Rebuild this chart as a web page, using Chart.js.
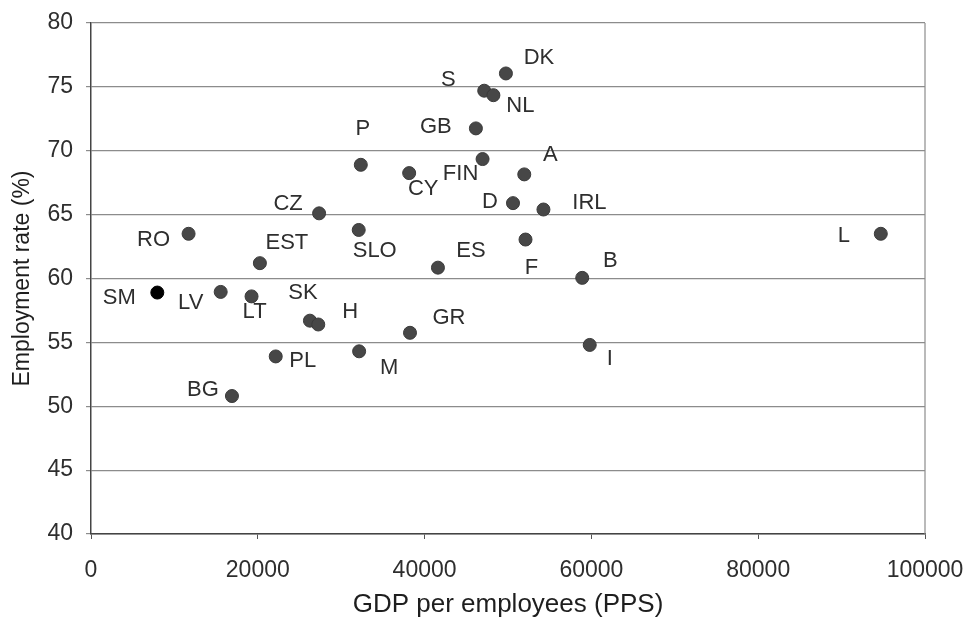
<!DOCTYPE html>
<html>
<head>
<meta charset="utf-8">
<title>Employment rate vs GDP per employee</title>
<script src="https://cdn.jsdelivr.net/npm/chart.js@4/dist/chart.umd.min.js"></script>
<style>
  html, body { margin: 0; padding: 0; background: #fff; }
  #wrap { width: 967px; height: 620px; }
</style>
</head>
<body>
<div id="wrap"><canvas id="chart" width="967" height="620"></canvas></div>
<script>
const countries = ["DK", "S", "NL", "GB", "P", "FIN", "A", "CY", "CZ", "D", "IRL", "RO", "SLO", "L", "F", "EST", "ES", "B", "SM", "LV", "LT", "SK", "H", "GR", "PL", "M", "I", "BG"];
const gdpPerEmployee = [49750, 47150, 48250, 46150, 32350, 46950, 51950, 38150, 27350, 50600, 54250, 11700, 32100, 94700, 52100, 20250, 41600, 58900, 7950, 15550, 19250, 26250, 27250, 38250, 22150, 32150, 59800, 16900];
const employmentRate = [76.05, 74.7, 74.35, 71.75, 68.9, 69.35, 68.15, 68.25, 65.1, 65.9, 65.4, 63.5, 63.8, 63.5, 63.05, 61.2, 60.85, 60.05, 58.9, 58.95, 58.6, 56.7, 56.4, 55.75, 53.9, 54.3, 54.8, 50.8];
const xTicks = [0, 20000, 40000, 60000, 80000, 100000];
const yTicks = [40, 45, 50, 55, 60, 65, 70, 75, 80];

// where each country name sits relative to its dot (px)
const labelOffsets = {
  DK: [33, -16], S: [-36, -11], NL: [27, 11], GB: [-40, -1], P: [2, -36], FIN: [-22, 15],
  A: [26, -19], CY: [14, 16], CZ: [-31, -9], D: [-23, -1], IRL: [46, -7], RO: [-35, 6],
  SLO: [16, 21], L: [-37, 2], F: [6, 28], EST: [27, -20], ES: [33, -17], B: [28, -17],
  SM: [-38, 5], LV: [-30, 11], LT: [3, 16], SK: [-7, -28], H: [32, -13], GR: [39, -15],
  PL: [27, 5], M: [30, 17], I: [20, 14], BG: [-29, -6]
};

const FONT = "'Liberation Sans', Arial, Helvetica, sans-serif";
const INK = "#2e2e2e";
const GRID = "#8c8c8c";

const pointLabels = {
  id: "pointLabels",
  afterDatasetsDraw(chart) {
    const { ctx } = chart;
    const meta = chart.getDatasetMeta(0);
    ctx.save();
    ctx.font = `22px ${FONT}`;
    ctx.fillStyle = INK;
    ctx.textAlign = "center";
    ctx.textBaseline = "middle";
    meta.data.forEach((pt, i) => {
      const [dx, dy] = labelOffsets[countries[i]] || [0, -20];
      ctx.fillText(countries[i], pt.x + dx, pt.y + dy);
    });
    ctx.restore();
  }
};

const rightBorder = {
  id: "rightBorder",
  beforeDatasetsDraw(chart) {
    const { ctx, chartArea } = chart;
    ctx.save();
    ctx.strokeStyle = GRID;
    ctx.lineWidth = 1.2;
    ctx.beginPath();
    ctx.moveTo(chartArea.right, chartArea.top);
    ctx.lineTo(chartArea.right, chartArea.bottom);
    ctx.stroke();
    ctx.restore();
  }
};

new Chart(document.querySelector("#chart"), {
  type: "scatter",
  data: {
    datasets: [{
      label: "Countries",
      data: countries.map((c, i) => ({ x: gdpPerEmployee[i], y: employmentRate[i] })),
      pointRadius: 6.5,
      pointHoverRadius: 6.5,
      pointBackgroundColor: countries.map((c) => (c === "SM" ? "#000" : "#474747")),
      pointBorderColor: countries.map((c) => (c === "SM" ? "#000" : "#3a3a3a")),
      pointBorderWidth: 1
    }]
  },
  options: {
    responsive: false,
    animation: false,
    layout: { padding: { top: 23, right: 42, bottom: 0, left: 0 } },
    plugins: { legend: { display: false }, tooltip: { enabled: false } },
    scales: {
      x: {
        type: "linear",
        min: 0,
        max: 100000,
        afterBuildTicks: (scale) => { scale.ticks = xTicks.map((v) => ({ value: v })); },
        afterFit: (scale) => { scale.height = 86; scale.paddingLeft = 0; scale.paddingRight = 0; },
        grid: { drawOnChartArea: false, drawTicks: true, tickLength: 5, color: "#555" },
        border: { color: "#444", width: 1.5 },
        ticks: { color: INK, font: { family: FONT, size: 23 }, padding: 18, maxRotation: 0, callback: (v) => String(v) },
        title: { display: true, text: "GDP per employees (PPS)", color: "#1e1e1e", font: { family: FONT, size: 26 }, padding: { top: 0, bottom: 0 } }
      },
      y: {
        type: "linear",
        min: 40,
        max: 80,
        afterBuildTicks: (scale) => { scale.ticks = yTicks.map((v) => ({ value: v })); },
        afterFit: (scale) => { scale.width = 91; scale.paddingTop = 0; scale.paddingBottom = 0; },
        grid: { color: GRID, lineWidth: 1.2, tickLength: 5 },
        border: { color: "#444", width: 1.5 },
        ticks: { color: INK, font: { family: FONT, size: 23 }, padding: 13 },
        title: { display: true, text: "Employment rate (%)", color: "#1e1e1e", font: { family: FONT, size: 23 }, padding: { top: 9, bottom: 0 } }
      }
    }
  },
  plugins: [rightBorder, pointLabels]
});
</script>
</body>
</html>
